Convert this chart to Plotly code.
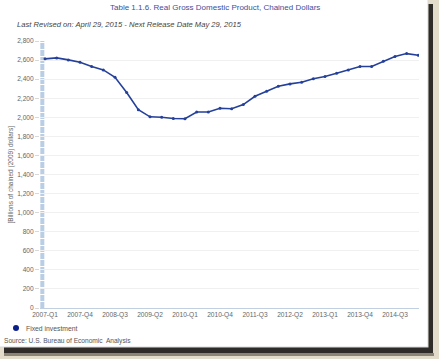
import plotly.graph_objects as go

categories = [f"{y}-Q{q}" for y in range(2007, 2016) for q in range(1, 5)][:33]
fixed_investment = [2613, 2623, 2602, 2577, 2532, 2497, 2420, 2260, 2080, 2005,
                    2000, 1988, 1985, 2055, 2055, 2095, 2090, 2133, 2220, 2273,
                    2325, 2350, 2367, 2405, 2427, 2462, 2497, 2532, 2532, 2588,
                    2637, 2668, 2650]
tick_labels = categories[::3]
series_name = "Fixed investment"
title_text = "Table 1.1.6. Real Gross Domestic Product, Chained Dollars"
subtitle_text = "Last Revised on: April 29, 2015 - Next Release Date May 29, 2015"
yaxis_text = "[Billions of chained (2009) dollars]"
source_text = "Source: U.S. Bureau of Economic  Analysis"

W, H = 439, 359
L, R, T, B = 40, 419, 41, 308
FONT = "Liberation Sans, Arial"

def px(x):
    return (x - L) / (R - L)

def py(y):
    return (B - y) / (B - T)

xs = list(range(len(categories)))

fig = go.Figure()
fig.add_trace(go.Scatter(
    x=xs, y=fixed_investment, mode="lines+markers", name=series_name,
    line=dict(color="#24409a", width=1.6),
    marker=dict(color="#24409a", size=3),
    showlegend=False, hoverinfo="skip"))

shapes = [
    dict(type="rect", xref="paper", yref="paper", x0=px(-2), x1=px(428), y0=py(347), y1=py(-2),
         fillcolor="white", line=dict(color="#d8d8d8", width=1), layer="below"),
    dict(type="rect", xref="paper", yref="paper", x0=px(428.5), x1=px(433), y0=py(354), y1=py(4),
         fillcolor="#2e2b28", line=dict(width=0), layer="below"),
    dict(type="rect", xref="paper", yref="paper", x0=px(4), x1=px(433), y0=py(353), y1=py(347.5),
         fillcolor="#2e2b28", line=dict(width=0), layer="below"),
    dict(type="rect", xref="paper", yref="paper", x0=px(4), x1=px(434), y0=py(356), y1=py(353),
         fillcolor="#8c8474", line=dict(width=0), layer="below"),
    dict(type="line", xref="x", yref="y", x0=-0.23, x1=-0.23, y0=0, y1=2800,
         line=dict(color="#b9cde4", width=4, dash="6px,1px"), layer="below"),
    dict(type="circle", xref="paper", yref="paper", x0=px(13), x1=px(19), y0=py(331), y1=py(325),
         fillcolor="#0b1f8c", line=dict(width=0)),
]

annotations = [
    dict(text=title_text, xref="paper", yref="paper", x=px(215), y=py(8),
         xanchor="center", yanchor="middle", showarrow=False,
         font=dict(size=8, color="#3c4f9c", family=FONT)),
    dict(text="<i>" + subtitle_text + "</i>", xref="paper", yref="paper", x=px(15), y=py(24),
         xanchor="left", yanchor="middle", showarrow=False,
         font=dict(size=7.6, color="#444444", family=FONT)),
    dict(text=yaxis_text, xref="paper", yref="paper", x=px(10), y=py(174.5),
         xanchor="center", yanchor="middle", showarrow=False, textangle=-90,
         font=dict(size=6.5, color="#666666", family=FONT)),
    dict(text=series_name, xref="paper", yref="paper", x=px(24), y=py(328),
         xanchor="left", yanchor="middle", showarrow=False,
         font=dict(size=6.8, color="#555555", family=FONT)),
    dict(text=source_text, xref="paper", yref="paper", x=px(2), y=py(341),
         xanchor="left", yanchor="middle", showarrow=False,
         font=dict(size=6.6, color="#555555", family=FONT)),
]

fig.update_layout(
    width=W, height=H,
    margin=dict(l=L, r=W - R, t=T, b=H - B),
    paper_bgcolor="#e4dccb", plot_bgcolor="white",
    font=dict(family=FONT, size=7, color="#666666"),
    shapes=shapes, annotations=annotations,
    showlegend=False,
    xaxis=dict(range=[-0.43, 32.06], tickmode="array", tickvals=xs[::3], ticktext=tick_labels,
               showgrid=False, zeroline=False, showline=True, linecolor="#c0d0e0", linewidth=1,
               ticks="", tickfont=dict(size=6.6, color="#666666")),
    yaxis=dict(range=[0, 2800], dtick=200, tickformat=",", showgrid=True, gridcolor="#f0f0f0",
               zeroline=False, ticks="outside", ticklen=4, tickcolor="#d8d8d8",
               tickfont=dict(size=6.6, color="#666666")),
)

fig.write_html("out.html", config={"displayModeBar": False},
               post_script="document.body.style.margin='0';document.body.style.overflow='hidden';")
